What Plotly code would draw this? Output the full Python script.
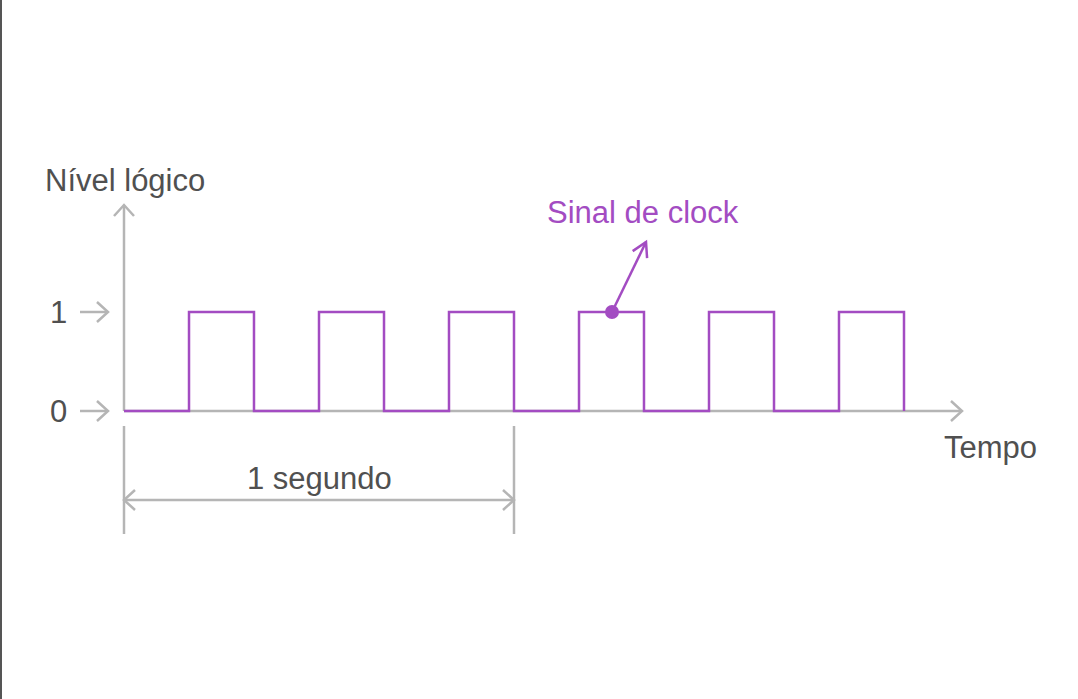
import math
import plotly.graph_objects as go

# ---------------- data ----------------
edge_times = [0, 0.1667, 0.3333, 0.5, 0.6667, 0.8333, 1.0, 1.1667, 1.3333,
              1.5, 1.6667, 1.8333, 2.0]          # seconds
levels = [0, 1, 0, 1, 0, 1, 0, 1, 0, 1, 0, 1, 0]  # logic level after each edge
y_tick_vals = [0, 1]
y_tick_labels = ["0", "1"]
x_title = "Tempo"
y_title = "Nível lógico"
signal_label = "Sinal de clock"
signal_point = (1.2513, 1)          # where the label arrow starts
span_start, span_end = 0.0, 1.0     # seconds measured by the dimension line
span_label = "1 segundo"

# ---------------- layout constants ----------------
W, H = 1078, 699
X0_PX, Y0_PX = 124, 411      # pixel position of origin
PX_PER_S, PX_PER_LVL = 390, 99
GRAY = "#b5b5b5"
TEXT = "#505050"
PURPLE = "#a34cc2"
FONT = "Liberation Sans, Arial, sans-serif"
FS = 31
LW = 2.5

def dx(px):
    return px / PX_PER_S

def dy(px):
    return -px / PX_PER_LVL  # pixel down -> data down

x_range = [-X0_PX / PX_PER_S, (W - X0_PX) / PX_PER_S]
y_range = [(Y0_PX - H) / PX_PER_LVL, Y0_PX / PX_PER_LVL]

shapes = []

def line(x0, y0, x1, y1, color=GRAY, width=LW, layer="below"):
    shapes.append(dict(type="line", xref="x", yref="y", x0=x0, y0=y0, x1=x1, y1=y1,
                       layer=layer, line=dict(color=color, width=width)))

def chevron(tx, ty, ux, uy, color=GRAY, back=11, half=10, width=LW, layer="below"):
    n = math.hypot(ux, uy)
    ux, uy = ux / n, uy / n
    px, py = -uy, ux
    w1 = (tx + (-ux * back + px * half) / PX_PER_S, ty + (-uy * back + py * half) / PX_PER_LVL)
    w2 = (tx + (-ux * back - px * half) / PX_PER_S, ty + (-uy * back - py * half) / PX_PER_LVL)
    shapes.append(dict(type="path", xref="x", yref="y", layer=layer,
                       path=f"M {w1[0]},{w1[1]} L {tx},{ty} L {w2[0]},{w2[1]}",
                       line=dict(color=color, width=width)))

# axes
x_end = dx(838)
y_top = -dy(206)
line(0, 0, x_end, 0)
chevron(x_end, 0, 1, 0)
line(0, 0, 0, y_top)
chevron(0, y_top, 0, 1)

# tick arrows
for v in y_tick_vals:
    line(dx(-44), v, dx(-16), v)
    chevron(dx(-16), v, 1, 0)

# dimension line
line(span_start, dy(15), span_start, dy(123))
line(span_end, dy(15), span_end, dy(123))
line(span_start, dy(89), span_end, dy(89))
chevron(span_start, dy(89), -1, 0)
chevron(span_end, dy(89), 1, 0)

# label arrow for signal
tip = (signal_point[0] + dx(34), signal_point[1] + 70 / PX_PER_LVL)
line(signal_point[0], signal_point[1], tip[0], tip[1], color=PURPLE, layer="above")
chevron(tip[0], tip[1], 34, 70, color=PURPLE, back=14, half=8, layer="above")

# left frame border
shapes.append(dict(type="rect", xref="paper", yref="paper", x0=0, x1=2 / W, y0=0, y1=1,
                   line=dict(width=0), fillcolor="#555555"))

fig = go.Figure()
fig.add_trace(go.Scatter(x=edge_times, y=levels, mode="lines", line_shape="hv",
                         line=dict(color=PURPLE, width=LW), hoverinfo="skip",
                         showlegend=False))
fig.add_trace(go.Scatter(x=[signal_point[0]], y=[signal_point[1]], mode="markers",
                         marker=dict(color=PURPLE, size=14), hoverinfo="skip",
                         showlegend=False))

annotations = []
def text(x, y, s, color=TEXT, xanchor="center"):
    annotations.append(dict(x=x, y=y, xref="x", yref="y", text=s, showarrow=False,
                            xanchor=xanchor, yanchor="middle",
                            font=dict(family=FONT, size=FS, color=color)))

for v, lab in zip(y_tick_vals, y_tick_labels):
    text(dx(-66), v, lab)
text(dx(1), -dy(231), y_title)
text(dx(866), dy(36), x_title)
text((span_start + span_end) / 2, dy(67), span_label)
text(dx(519), -dy(199), signal_label, color=PURPLE)

fig.update_layout(
    width=W, height=H,
    margin=dict(l=0, r=0, t=0, b=0, pad=0),
    paper_bgcolor="white", plot_bgcolor="white",
    xaxis=dict(range=x_range, visible=False, fixedrange=True),
    yaxis=dict(range=y_range, visible=False, fixedrange=True),
    shapes=shapes, annotations=annotations,
)

fig.write_html("out.html", config={"displayModeBar": False},
               post_script="document.body.style.margin='0';document.body.style.overflow='hidden';")
